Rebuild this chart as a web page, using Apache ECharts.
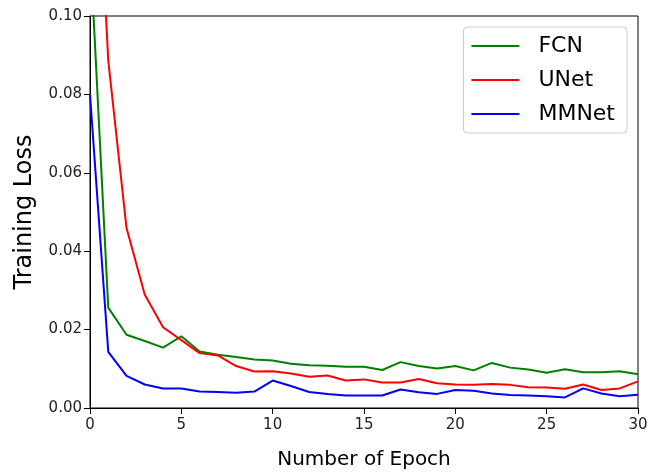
<!DOCTYPE html>
<html>
<head>
<meta charset="utf-8">
<script src="https://cdn.jsdelivr.net/npm/echarts@6/dist/echarts.min.js"></script>
<style>
    html, body { margin: 0; padding: 0; background: #fff; }
    #chart { width: 656px; height: 475px; }
</style>
</head>
<body>
<div id="chart"></div>
<script>
    // epochs 0..30
    var epochs = [];
    for (var i = 0; i <= 30; i++) epochs.push(i);

    var fcnLoss = [0.118, 0.0256, 0.0187, 0.0171, 0.0154, 0.0183, 0.0144, 0.0136, 0.0130, 0.0124,
        0.0121, 0.0113, 0.0109, 0.0108, 0.0105, 0.0105, 0.0097, 0.0117, 0.0107, 0.0101,
        0.0107, 0.0096, 0.0115, 0.0103, 0.0098, 0.0090, 0.0099, 0.0091, 0.0091, 0.0094, 0.0086];
    var unetLoss = [0.180, 0.0886, 0.0459, 0.0289, 0.0206, 0.0173, 0.0140, 0.0134, 0.0107, 0.0093,
        0.0094, 0.0088, 0.0080, 0.0083, 0.0070, 0.0073, 0.0065, 0.0065, 0.0074, 0.0063,
        0.0060, 0.0059, 0.0061, 0.0059, 0.0053, 0.0052, 0.0049, 0.0060, 0.0046, 0.0050, 0.0068];
    var mmnetLoss = [0.080, 0.0143, 0.0082, 0.0060, 0.0050, 0.0050, 0.0042, 0.0041, 0.0039, 0.0042,
        0.0070, 0.0056, 0.0041, 0.0036, 0.0032, 0.0032, 0.0032, 0.0047, 0.0040, 0.0036,
        0.0046, 0.0044, 0.0037, 0.0033, 0.0032, 0.0030, 0.0027, 0.0050, 0.0037, 0.0030, 0.0034];

    var seriesNames = ['FCN', 'UNet', 'MMNet'];
    var seriesColors = ['#008000', '#ff0000', '#0000ff'];
    var seriesData = [fcnLoss, unetLoss, mmnetLoss];

    var font = 'DejaVu Sans';

    function pairs(ys) {
        return epochs.map(function (x, i) { return [x, ys[i]]; });
    }

    var chart = echarts.init(document.getElementById('chart'));
    var option = {
        animation: false,
        textStyle: { fontFamily: font },
        grid: {
            left: 90, right: 18, top: 16, bottom: 57,
            show: true, borderColor: '#000', borderWidth: 1, backgroundColor: 'transparent'
        },
        legend: {
            orient: 'vertical',
            right: 29, top: 27,
            padding: [8, 12, 8, 8],
            itemGap: 12,
            itemWidth: 48, itemHeight: 2,
            icon: 'rect',
            borderColor: '#ccc', borderWidth: 1, borderRadius: 4,
            backgroundColor: '#fff',
            textStyle: { fontSize: 22, color: '#000', fontFamily: font, padding: [0, 0, 0, 14] },
            data: seriesNames
        },
        xAxis: {
            type: 'value',
            min: 0, max: 30, interval: 5,
            name: 'Number of Epoch',
            nameLocation: 'middle',
            nameGap: 42,
            nameTextStyle: { fontSize: 20, color: '#000', fontFamily: font },
            axisLine: { onZero: false, lineStyle: { color: '#000', width: 1 } },
            axisTick: { inside: false, length: 6, lineStyle: { color: '#000' } },
            axisLabel: { fontSize: 15, color: '#222', margin: 10, fontFamily: font },
            splitLine: { show: false }
        },
        yAxis: {
            type: 'value',
            min: 0, max: 0.1, interval: 0.02,
            name: 'Training Loss',
            nameLocation: 'middle',
            nameGap: 53,
            nameTextStyle: { fontSize: 24, color: '#000', fontFamily: font },
            axisLine: { show: true, lineStyle: { color: '#000', width: 1 } },
            axisTick: { show: true, inside: false, length: 6, lineStyle: { color: '#000' } },
            axisLabel: {
                fontSize: 15, color: '#222', margin: 8, fontFamily: font,
                formatter: function (v) { return v.toFixed(2); }
            },
            splitLine: { show: false }
        },
        series: seriesNames.map(function (name, k) {
            return {
                name: name,
                type: 'line',
                data: pairs(seriesData[k]),
                symbol: 'none',
                clip: true,
                color: seriesColors[k],
                lineStyle: { color: seriesColors[k], width: 2 }
            };
        })
    };
    chart.setOption(option);
</script>
</body>
</html>
